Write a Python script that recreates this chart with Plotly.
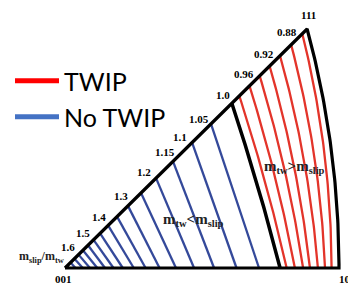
import numpy as np
import plotly.graph_objects as go

# ---- data ----
# tick labels (m_slip / m_tw) along the 001-111 edge and their position (fraction of the edge)
hyp_labels = ["1.6", "1.5", "1.4", "1.3", "1.2", "1.15", "1.1", "1.05", "1.0", "0.96", "0.92", "0.88"]
hyp_label_pos = [0.05, 0.11, 0.176, 0.266, 0.364, 0.449, 0.513, 0.588, 0.688, 0.774, 0.857, 0.952]

# iso-ratio contours: start along 001-111 edge (fraction), end along 001-101 edge (fraction)
blue_top = [0.603, 0.525, 0.446, 0.376, 0.314, 0.260, 0.215, 0.178, 0.145, 0.118, 0.095, 0.074, 0.056, 0.039, 0.023]
blue_bottom = [0.708, 0.626, 0.544, 0.471, 0.405, 0.345, 0.294, 0.251, 0.211, 0.177, 0.146, 0.118, 0.091, 0.065, 0.038]
bound_top = [0.689]
bound_bottom = [0.785]
red_top = [0.72, 0.762, 0.804, 0.845, 0.888, 0.934, 0.98]
red_bottom = [0.809, 0.839, 0.869, 0.894, 0.923, 0.949, 0.973]

# ---- stereographic triangle geometry ----
X111 = Y111 = (np.sqrt(3) - 1) / 2
X101 = np.sqrt(2) - 1


def contour(t, u, w, n=60):
    h = np.linspace(0, 1, n)
    Yt, Xt, Xb = Y111 * t, X111 * t, X101 * u
    Y = Yt * h
    X = Xb + (Xt - Xb) * h
    Ye = Y111 * h
    bulge = (-1 + np.sqrt(2 - Ye ** 2)) - (X101 + (X111 - X101) * h)
    X = X + w * bulge * (Yt / Y111)
    return X, Y


def bend(u):
    return float(np.clip((u - 0.7) / 0.3, 0, 1))


RED = "#e3342a"
BLUE = "#34499a"
fig = go.Figure()

for t, u in zip(blue_top, blue_bottom):
    x, y = contour(t, u, 0.0)
    fig.add_trace(go.Scatter(x=x, y=y, mode="lines", line=dict(color=BLUE, width=2.3),
                             showlegend=False, hoverinfo="skip"))
for t, u in zip(red_top, red_bottom):
    x, y = contour(t, u, bend(u))
    fig.add_trace(go.Scatter(x=x, y=y, mode="lines", line=dict(color=RED, width=2.3),
                             showlegend=False, hoverinfo="skip"))
for t, u in zip(bound_top, bound_bottom):
    x, y = contour(t, u, bend(u))
    fig.add_trace(go.Scatter(x=x, y=y, mode="lines", line=dict(color="black", width=3.5),
                             showlegend=False, hoverinfo="skip"))

# triangle outline: 001 -> 101 -> (arc) -> 111 -> 001
ax, ay = contour(1.0, 1.0, 1.0)
ox = np.concatenate([[0.0], ax, [0.0]])
oy = np.concatenate([[0.0], ay, [0.0]])
fig.add_trace(go.Scatter(x=ox, y=oy, mode="lines", line=dict(color="black", width=3.2),
                         showlegend=False, hoverinfo="skip"))

# legend entries
fig.add_trace(go.Scatter(x=[None], y=[None], mode="lines", name="TWIP",
                         line=dict(color="#ff0000", width=5), legend="legend"))
fig.add_trace(go.Scatter(x=[None], y=[None], mode="lines", name="No TWIP",
                         line=dict(color="#4472c4", width=5), legend="legend2"))

lab_font = dict(family="Liberation Serif", size=11, color="black")
ann = []
off = 12.5
for lab, p in zip(hyp_labels, hyp_label_pos):
    ann.append(dict(x=X111 * p, y=Y111 * p, text="<b>%s</b>" % lab, showarrow=False,
                    xshift=-off * 0.707, yshift=off * 0.707, font=lab_font))
ann.append(dict(x=X111, y=Y111, text="<b>111</b>", showarrow=False, xshift=1, yshift=14, font=lab_font))
ann.append(dict(x=0, y=0, text="<b>001</b>", showarrow=False, xshift=-2, yshift=-11, font=lab_font))
ann.append(dict(x=X101, y=0, text="<b>101</b>", showarrow=False, xshift=8, yshift=-11, font=lab_font))
ann.append(dict(x=0, y=0, text="<b>m<sub>slip</sub>/m<sub>tw</sub></b>", showarrow=False,
                xshift=-24, yshift=11, font=dict(family="Liberation Serif", size=12, color="#222")))
ann.append(dict(x=0.3462, y=0.1547, text="<b>m<sub>tw</sub>&gt;m<sub>slip</sub></b>", showarrow=False,
                font=dict(family="Liberation Serif", size=15, color="#222")))
ann.append(dict(x=0.1943, y=0.0735, text="<b>m<sub>tw</sub>&lt;m<sub>slip</sub></b>", showarrow=False,
                font=dict(family="Liberation Serif", size=15, color="#222")))

sx = 274 / X101
sy = 239 / Y111
W, H = 348, 284
fig.update_layout(
    width=W, height=H, margin=dict(l=0, r=0, t=0, b=0),
    paper_bgcolor="white", plot_bgcolor="white",
    xaxis=dict(range=[-65 / sx, (W - 65) / sx], visible=False, fixedrange=True),
    yaxis=dict(range=[(268 - H) / sy, 268 / sy], visible=False, fixedrange=True),
    annotations=ann,
    legend=dict(x=10 / W, y=1 - 58 / H, xanchor="left", yanchor="top", itemwidth=44,
                font=dict(family="Lato", size=25, color="black"), bgcolor="rgba(0,0,0,0)"),
    legend2=dict(x=10 / W, y=1 - 94 / H, xanchor="left", yanchor="top", itemwidth=44,
                 font=dict(family="Lato", size=25, color="black"), bgcolor="rgba(0,0,0,0)"),
    showlegend=True,
)
fig.write_html("out.html", config={"displayModeBar": False},
               post_script="document.body.style.margin='0px';document.body.style.overflow='hidden';")
